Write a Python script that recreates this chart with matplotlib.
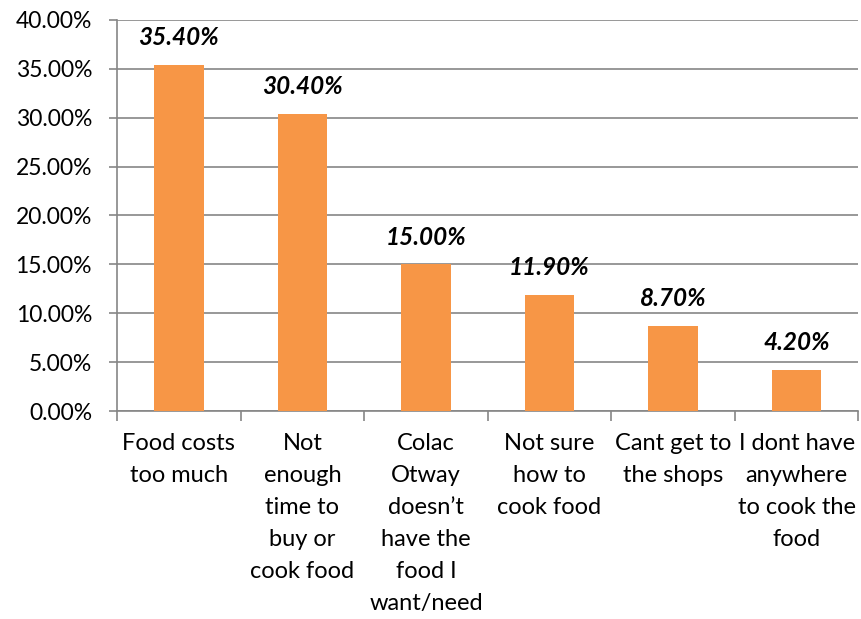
import matplotlib.pyplot as plt
from matplotlib.ticker import FuncFormatter, FixedLocator
import numpy as np

# data
categories = ["Food costs\ntoo much",
              "Not\nenough\ntime to\nbuy or\ncook food",
              "Colac\nOtway\ndoesn\u2019t\nhave the\nfood I\nwant/need",
              "Not sure\nhow to\ncook food",
              "Cant get to\nthe shops",
              "I dont have\nanywhere\nto cook the\nfood"]
values = [35.4, 30.4, 15.0, 11.9, 8.7, 4.2]

plt.rcParams['font.family'] = ['Lato', 'DejaVu Sans']
grey = '#868686'

fig = plt.figure(figsize=(8.61, 6.19), dpi=100)
ax = fig.add_axes([0.136, 0.336, 0.861, 0.632])

x = np.arange(len(values))
ax.bar(x, values, width=0.4, color='#F79646', zorder=3)

for xi, v in zip(x, values):
    ax.annotate("{:.2f}%".format(v), (xi, v), xytext=(0, 14), textcoords='offset points',
                ha='center', va='baseline', fontsize=17.5, fontweight='bold', fontstyle='italic')

ax.set_xlim(-0.5, len(values) - 0.5)
ax.set_ylim(0, 40)
ax.set_yticks(np.arange(0, 41, 5))
ax.yaxis.set_major_formatter(FuncFormatter(lambda v, p: "{:.2f}%".format(v)))
ax.yaxis.grid(True, color=grey, linewidth=1.2, zorder=0)

# category labels sit in the middle, ticks between categories
ax.xaxis.set_major_locator(FixedLocator(np.arange(-0.5, len(values), 1)))
ax.xaxis.set_minor_locator(FixedLocator(x))
ax.set_xticklabels([])
ax.set_xticklabels(categories, minor=True, fontsize=17, linespacing=1.64, va='top')
ax.tick_params(axis='x', which='minor', length=0, pad=16)
ax.tick_params(axis='x', which='major', length=7, color=grey, width=1.2)
ax.tick_params(axis='y', length=6, color=grey, width=1.2, labelsize=16.5, pad=12)

for s in ['top', 'right']:
    ax.spines[s].set_visible(False)
for s in ['left', 'bottom']:
    ax.spines[s].set_color(grey)
    ax.spines[s].set_linewidth(1.2)

fig.savefig('out.png', dpi=100)
